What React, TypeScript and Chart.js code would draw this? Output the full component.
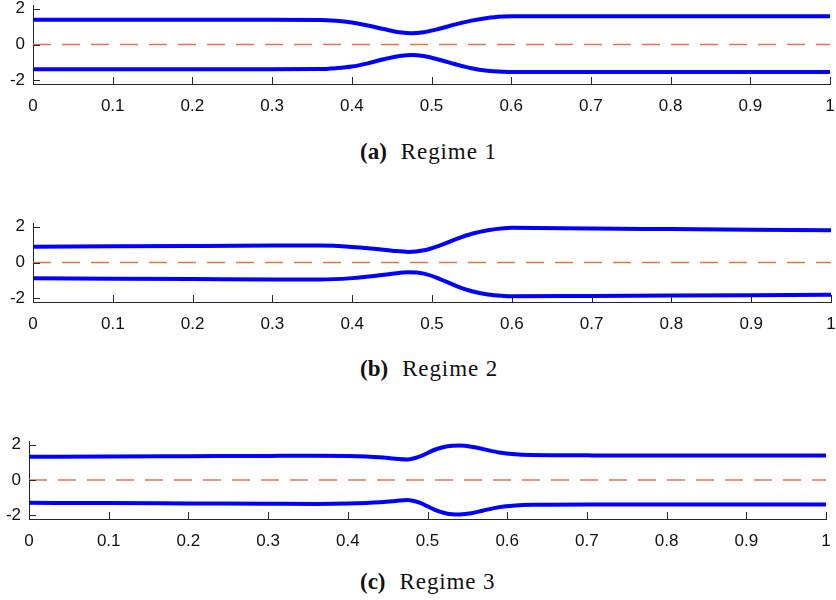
import React, { useEffect, useRef } from 'react';
import { Chart, registerables } from 'chart.js';
Chart.register(...registerables);

// ---------- data ----------
const xTickStep = 0.1;
const yTicks = [-2, 0, 2];

const xA = [0, 0.1, 0.2, 0.3, 0.36, 0.38, 0.40, 0.42, 0.44, 0.46, 0.475, 0.49, 0.51, 0.53, 0.55, 0.57, 0.59, 0.60, 0.7, 0.8, 0.9, 1.0];
const upperA = [1.38, 1.38, 1.38, 1.38, 1.37, 1.32, 1.22, 1.06, 0.86, 0.68, 0.62, 0.68, 0.88, 1.12, 1.33, 1.48, 1.56, 1.58, 1.58, 1.58, 1.58, 1.58];
const lowerA = [-1.38, -1.38, -1.38, -1.38, -1.37, -1.32, -1.23, -1.05, -0.82, -0.64, -0.58, -0.64, -0.85, -1.1, -1.32, -1.46, -1.52, -1.53, -1.53, -1.53, -1.53, -1.53];

const xB = [0, 0.1, 0.2, 0.3, 0.36, 0.40, 0.43, 0.45, 0.47, 0.49, 0.51, 0.53, 0.55, 0.57, 0.59, 0.60, 0.7, 0.8, 0.9, 1.0];
const upperB = [0.88, 0.9, 0.92, 0.94, 0.95, 0.87, 0.75, 0.66, 0.59, 0.68, 0.95, 1.3, 1.6, 1.8, 1.91, 1.93, 1.89, 1.86, 1.83, 1.8];
const lowerB = [-0.88, -0.9, -0.92, -0.94, -0.95, -0.87, -0.74, -0.63, -0.54, -0.62, -0.92, -1.3, -1.6, -1.78, -1.86, -1.88, -1.86, -1.84, -1.82, -1.8];

const xC = [0, 0.1, 0.2, 0.3, 0.36, 0.40, 0.44, 0.46, 0.475, 0.49, 0.51, 0.525, 0.54, 0.555, 0.57, 0.59, 0.61, 0.63, 0.7, 0.8, 0.9, 1.0];
const upperC = [1.31, 1.32, 1.34, 1.36, 1.37, 1.35, 1.28, 1.2, 1.16, 1.32, 1.72, 1.9, 1.94, 1.88, 1.74, 1.55, 1.45, 1.41, 1.39, 1.38, 1.38, 1.38];
const lowerC = [-1.29, -1.3, -1.32, -1.34, -1.35, -1.33, -1.26, -1.18, -1.13, -1.28, -1.7, -1.9, -1.94, -1.88, -1.72, -1.53, -1.44, -1.4, -1.38, -1.38, -1.38, -1.38];

const zeroX = [0, 1];
const zeroY = [0, 0];

const captionLetters = ['(a)', '(b)', '(c)'];
const captionTexts = ['Regime 1', 'Regime 2', 'Regime 3'];

// ---------- chart ----------
const AXIS_COLOR = '#262626';

const inwardTicks = {
  id: 'inwardTicks',
  afterDraw(chart: any) {
    const { ctx, chartArea, scales } = chart;
    ctx.save();
    ctx.strokeStyle = AXIS_COLOR;
    ctx.lineWidth = 1;
    ctx.beginPath();
    for (const t of scales.x.ticks) {
      const px = Math.round(scales.x.getPixelForValue(t.value)) + 0.5;
      ctx.moveTo(px, chartArea.bottom);
      ctx.lineTo(px, chartArea.bottom - 7);
    }
    for (const t of scales.y.ticks) {
      const py = Math.round(scales.y.getPixelForValue(t.value)) + 0.5;
      ctx.moveTo(chartArea.left, py);
      ctx.lineTo(chartArea.left + 7, py);
    }
    ctx.stroke();
    ctx.restore();
  },
};

const toPts = (xs: number[], ys: number[]) => xs.map((x, i) => ({ x, y: ys[i] }));

type PanelProps = {
  top: number;
  left: number;
  right: number;
  plotHeight: number;
  xs: number[];
  upper: number[];
  lower: number[];
};

const H = 122;
const PAD_TOP = 5;

function Panel({ top, left, right, plotHeight, xs, upper, lower }: PanelProps) {
  const ref = useRef<HTMLCanvasElement | null>(null);
  useEffect(() => {
    if (!ref.current) return;
    const font = { family: '"Liberation Sans", Arial, Helvetica, sans-serif', size: 17 };
    const lineDs = (ys: number[]) => ({
      data: toPts(xs, ys),
      borderColor: '#0000FF',
      borderWidth: 4,
      pointRadius: 0,
      cubicInterpolationMode: 'monotone' as const,
      fill: false,
    });
    const chart = new Chart(ref.current, {
      type: 'line',
      data: {
        datasets: [
          {
            data: toPts(zeroX, zeroY),
            borderColor: '#E3764A',
            borderWidth: 1.3,
            borderDash: [18, 11],
            pointRadius: 0,
            fill: false,
          },
          lineDs(upper),
          lineDs(lower),
        ],
      },
      options: {
        animation: false,
        responsive: false,
        maintainAspectRatio: false,
        layout: { padding: { top: PAD_TOP, left: 0, right: 836 - right, bottom: 0 } },
        plugins: { legend: { display: false }, tooltip: { enabled: false } },
        scales: {
          x: {
            type: 'linear',
            min: 0,
            max: 1,
            grid: { display: false, drawTicks: false },
            border: { display: true, color: AXIS_COLOR, width: 1 },
            ticks: {
              stepSize: xTickStep,
              font,
              color: '#111',
              padding: 12,
              maxRotation: 0,
              autoSkip: false,
              callback: (v: any) => String(Math.round(Number(v) * 10) / 10),
            },
            afterFit: (s: any) => {
              s.height = H - PAD_TOP - plotHeight;
              s.paddingLeft = 0;
              s.paddingRight = 0;
            },
          },
          y: {
            type: 'linear',
            min: -2.2,
            max: 2.2,
            grid: { display: false, drawTicks: false },
            border: { display: true, color: AXIS_COLOR, width: 1 },
            ticks: { font, color: '#111', padding: 8 },
            afterBuildTicks: (s: any) => {
              s.ticks = yTicks.map((v) => ({ value: v }));
            },
            afterFit: (s: any) => {
              s.width = left;
              s.paddingTop = 0;
              s.paddingBottom = 0;
            },
          },
        },
      },
      plugins: [inwardTicks],
    });
    return () => chart.destroy();
  }, [top, left, right, plotHeight, xs, upper, lower]);
  return (
    <canvas
      ref={ref}
      width={836}
      height={H}
      style={{ position: 'absolute', left: 0, top, width: 836, height: H }}
    />
  );
}

function Caption({ top, letter, text }: { top: number; letter: string; text: string }) {
  return (
    <div
      style={{
        position: 'absolute',
        left: 360,
        top,
        fontFamily: "'Liberation Serif', 'Times New Roman', serif",
        fontSize: 23,
        lineHeight: '23px',
        color: '#111',
        whiteSpace: 'nowrap',
      }}
    >
      <b>{letter}</b>
      <span style={{ marginLeft: 14, letterSpacing: '0.9px' }}>{text}</span>
    </div>
  );
}

export default function App() {
  return (
    <div style={{ position: 'absolute', left: 0, top: 0, width: 836, height: 600, background: '#fff', overflow: 'hidden' }}>
      <Panel top={0} left={33} right={830} plotHeight={79} xs={xA} upper={upperA} lower={lowerA} />
      <Caption top={140} letter={captionLetters[0]} text={captionTexts[0]} />
      <Panel top={218} left={33} right={831} plotHeight={79} xs={xB} upper={upperB} lower={lowerB} />
      <Caption top={357} letter={captionLetters[1]} text={captionTexts[1]} />
      <Panel top={436} left={29} right={826} plotHeight={78} xs={xC} upper={upperC} lower={lowerC} />
      <Caption top={570} letter={captionLetters[2]} text={captionTexts[2]} />
    </div>
  );
}
